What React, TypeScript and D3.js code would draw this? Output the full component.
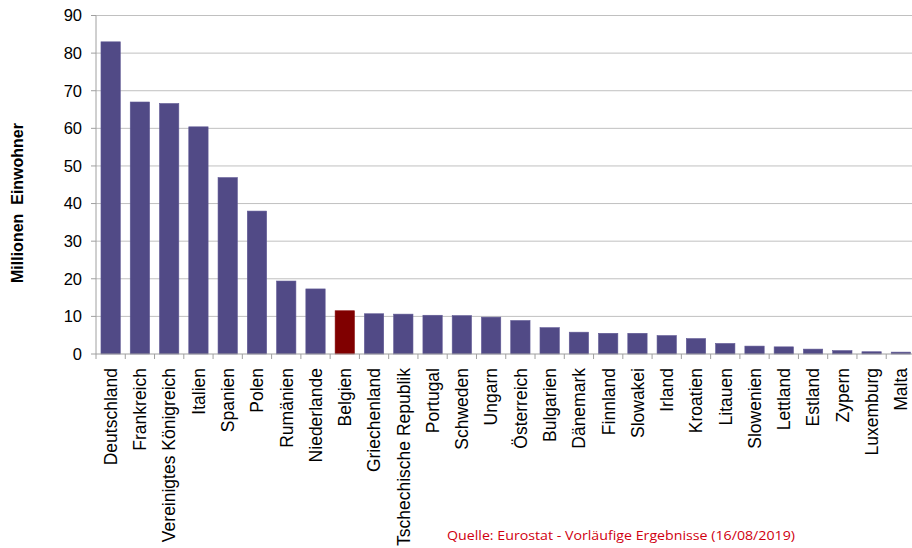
import React from "react";
import * as d3 from "d3";

const countries = [
  "Deutschland", "Frankreich", "Vereinigtes Königreich", "Italien", "Spanien", "Polen",
  "Rumänien", "Niederlande", "Belgien", "Griechenland", "Tschechische Republik", "Portugal",
  "Schweden", "Ungarn", "Österreich", "Bulgarien", "Dänemark", "Finnland", "Slowakei",
  "Irland", "Kroatien", "Litauen", "Slowenien", "Lettland", "Estland", "Zypern",
  "Luxemburg", "Malta",
];
const population = [
  83.0, 67.0, 66.6, 60.4, 46.9, 38.0, 19.4, 17.3, 11.5, 10.7, 10.6, 10.3, 10.2, 9.8,
  8.9, 7.0, 5.8, 5.5, 5.5, 4.9, 4.1, 2.8, 2.1, 1.9, 1.3, 0.9, 0.6, 0.5,
];
const highlighted = ["Belgien"];
const yTicks = [0, 10, 20, 30, 40, 50, 60, 70, 80, 90];
const yTitle = "Millionen  Einwohner";
const source = "Quelle: Eurostat - Vorläufige Ergebnisse (16/08/2019)";

export default function App() {
  const W = 912;
  const H = 548;
  const left = 96;
  const right = 915.5;
  const top = 15.5;
  const bottom = 354;

  const x = d3.scaleBand<string>().domain(countries).range([left, right]).paddingInner(0.34).paddingOuter(0.17);
  const y = d3.scaleLinear().domain([0, 90]).range([bottom, top]);
  const step = x.step();

  return (
    <svg width={W} height={H} style={{ position: "absolute", left: 0, top: 0, background: "#fff" }}
      fontFamily="'Liberation Sans', Arial, sans-serif">
      {yTicks.map((t) => (
        <g key={t}>
          {t > 0 && (
            <line x1={left} x2={W} y1={y(t)} y2={y(t)} stroke="#c0c0c0" strokeWidth={1} />
          )}
          <line x1={left - 5} x2={left} y1={y(t)} y2={y(t)} stroke="#a0a0a0" strokeWidth={1} />
          <text x={82} y={y(t)} dy="0.36em" textAnchor="end" fontSize={16.5} fill="#000">{t}</text>
        </g>
      ))}
      {countries.map((c, i) => (
        <rect key={c} x={x(c)!} width={x.bandwidth()} y={y(population[i])}
          height={y(0) - y(population[i])}
          fill={highlighted.includes(c) ? "#800000" : "#514a86"}
          stroke={highlighted.includes(c) ? "#8a1010" : "#5f5894"} strokeWidth={0.6} />
      ))}
      <line x1={left} x2={left} y1={top} y2={bottom} stroke="#a0a0a0" strokeWidth={1} />
      <line x1={left} x2={W} y1={bottom} y2={bottom} stroke="#a0a0a0" strokeWidth={1} />
      {countries.map((c, i) => (
        <line key={"t" + c} x1={left + i * step} x2={left + i * step} y1={bottom} y2={bottom + 5}
          stroke="#a0a0a0" strokeWidth={1} />
      ))}
      {countries.map((c) => {
        const cx = x(c)! + x.bandwidth() / 2;
        return (
          <text key={"l" + c} transform={`translate(${cx},368) rotate(-90)`} dy="0.36em"
            textAnchor="end" fontSize={17.5} fill="#000">{c}</text>
        );
      })}
      <text transform={`translate(17,203) rotate(-90)`} dy="0.36em" textAnchor="middle"
        fontSize={16} fontWeight="bold" fill="#000" style={{ whiteSpace: "pre" }}>{yTitle}</text>
      <text x={447} y={540} fontSize={13} fill="#d00010" fontFamily="'Open Sans', sans-serif"
        textLength={348} lengthAdjust="spacingAndGlyphs">{source}</text>
    </svg>
  );
}
